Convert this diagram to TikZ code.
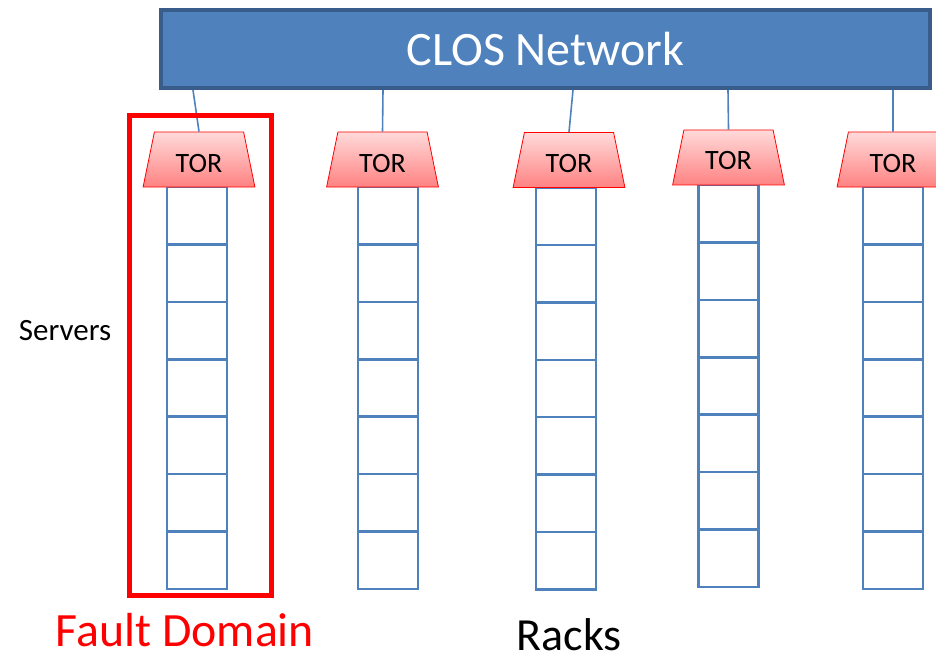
\documentclass[tikz,border=0pt]{standalone}
\usepackage{fontspec}
\setmainfont{Carlito}
\usetikzlibrary{shapes.geometric}
\definecolor{closfill}{HTML}{4F81BD}
\definecolor{closedge}{HTML}{385D8A}
\definecolor{srv}{HTML}{4F81BD}
\definecolor{torTop}{HTML}{FFDADA}
\definecolor{torBot}{HTML}{FF8282}
\begin{document}
\begin{tikzpicture}[x=1pt,y=-1pt,
  clos/.style={rectangle, draw=closedge, line width=4pt, fill=closfill, text=white,
    font=\fontsize{48}{50}\selectfont, minimum width=769pt, minimum height=78pt, inner sep=0pt},
  tor/.style={trapezium, trapezium stretches=true, draw=red, line width=0.8pt,
    top color=torTop, bottom color=torBot, minimum width=112pt, minimum height=55pt,
    trapezium angle=76.7, inner sep=0pt, font=\fontsize{28}{30}\selectfont,
    text height=25pt, text depth=0pt},
  server/.style={rectangle, draw=srv, line width=2.5pt, minimum width=60pt,
    minimum height=57.43pt, inner sep=0pt},
  link/.style={draw=srv, line width=1.6pt},
  fdbox/.style={rectangle, draw=red, line width=5pt, minimum width=142pt,
    minimum height=480pt, inner sep=0pt},
  lbl/.style={inner sep=0pt}
]
\useasboundingbox (0,0) rectangle (936,655);
\clip (0,0) rectangle (936,655);

% CLOS network
\node[clos] (clos) at (545.5,49) {CLOS Network};

% racks
\foreach \i/\tx/\tt/\cx in {1/199/159.5/197, 2/382.5/159.5/388, 3/569/160/566, 4/728.5/157.5/728.5, 5/893/159.5/893}{
  \foreach \k in {1,...,7}{
    \node[server] (s\i-\k) at (\cx, {\tt+27.5+(\k-0.5)*57.43}) {};
  }
  \node[tor] (tor\i) at (\tx,\tt) {TOR};
}

% links
\coordinate (c1) at (193,90);
\coordinate (c2) at (383,90);
\coordinate (c3) at (573,90);
\coordinate (c4) at (728,90);
\coordinate (c5) at (893,90);
\foreach \i in {1,...,5}{
  \draw[link] (c\i) -- (tor\i.north);
}

% fault domain box
\node[fdbox] (fd) at (200.5,355.5) {};

% labels
\node[lbl, font=\fontsize{31}{33}\selectfont] (servers) at (65,331) {Servers};
\node[lbl, anchor=base, text=red, font=\fontsize{47.8}{50}\selectfont] (fdlabel) at (185,646) {Fault Domain};
\node[lbl, anchor=base, font=\fontsize{46}{48}\selectfont] (racks) at (569,650) {Racks};
\end{tikzpicture}
\end{document}
